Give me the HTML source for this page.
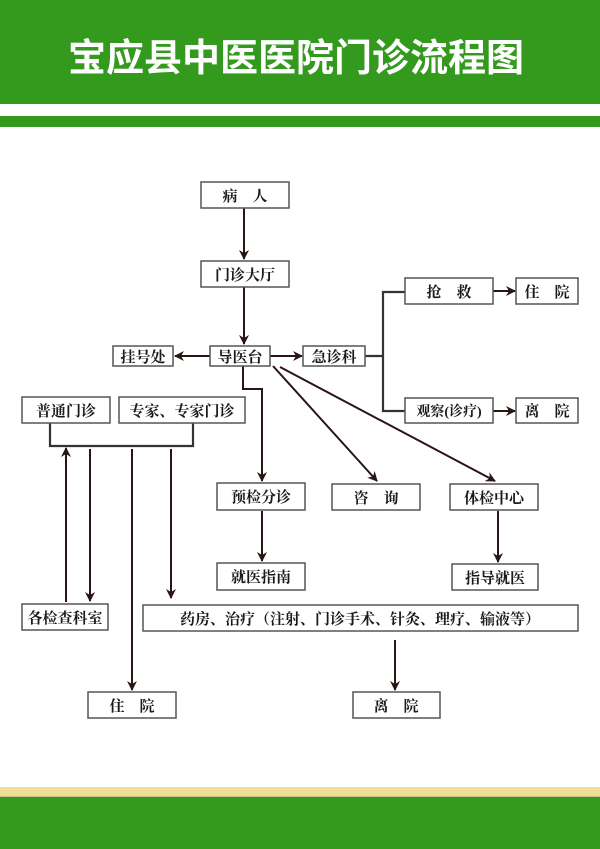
<!DOCTYPE html>
<html><head><meta charset="utf-8"><style>
html,body{margin:0;padding:0;background:#fff;}
body{width:600px;height:849px;position:relative;overflow:hidden;}
svg{position:absolute;left:0;top:0;}
</style></head><body>
<svg width="600" height="849" viewBox="0 0 600 849" xmlns="http://www.w3.org/2000/svg">
<defs>
<marker id="a" viewBox="0 0 10 10" refX="9" refY="5" markerWidth="10" markerHeight="10" orient="auto-start-reverse" markerUnits="userSpaceOnUse">
<path d="M0,0 L10,5 L0,10 L3,5 z" fill="#2a1414"/></marker>
</defs>
<rect x="0" y="0" width="600" height="104" fill="#339a1e"/>
<rect x="0" y="116" width="600" height="11" fill="#339a1e"/>
<text x="296" y="71" fill="#fff" font-family="'Noto Sans CJK SC','WenQuanYi Zen Hei',sans-serif" font-weight="bold" font-size="38" text-anchor="middle">宝应县中医医院门诊流程图</text>
<rect x="0" y="787" width="600" height="9" fill="#f0df98"/>
<rect x="0" y="796" width="600" height="1" fill="#c8c080"/>
<rect x="0" y="797" width="600" height="52" fill="#339a1e"/>

<g fill="none" stroke="#2a1414" stroke-width="2">
<line x1="244" y1="208" x2="244" y2="259" marker-end="url(#a)"/>
<line x1="244" y1="287" x2="244" y2="344" marker-end="url(#a)"/>
<line x1="210" y1="356" x2="175" y2="356" marker-end="url(#a)"/>
<line x1="270" y1="356" x2="302" y2="356" marker-end="url(#a)"/>
<polyline points="243,365 243,389 262,389 262,481" marker-end="url(#a)"/>
<line x1="262" y1="511" x2="262" y2="561" marker-end="url(#a)"/>
<line x1="273" y1="366" x2="377" y2="481" marker-end="url(#a)"/>
<line x1="280" y1="367" x2="495" y2="481" marker-end="url(#a)"/>
<line x1="498" y1="511" x2="498" y2="562" marker-end="url(#a)"/>
<line x1="493" y1="291" x2="515" y2="291" marker-end="url(#a)"/>
<line x1="493" y1="411" x2="515" y2="411" marker-end="url(#a)"/>
<line x1="66" y1="602" x2="66" y2="448" marker-end="url(#a)"/>
<line x1="90" y1="449" x2="90" y2="601" marker-end="url(#a)"/>
<line x1="132" y1="449" x2="132" y2="690" marker-end="url(#a)"/>
<line x1="171" y1="449" x2="171" y2="598" marker-end="url(#a)"/>
<line x1="395" y1="640" x2="395" y2="690" marker-end="url(#a)"/>
</g>
<g fill="none" stroke="#333" stroke-width="2.2">
<polyline points="365,356 383,356"/>
<polyline points="405,292 383,292 383,411 405,411"/>
<polyline points="50,423 50,446 193,446 193,423"/>
</g>

<g fill="#fff" stroke="#555" stroke-width="1.5">
<rect x="201" y="182" width="88" height="26"/>
<rect x="201" y="261" width="88" height="26"/>
<rect x="210" y="346" width="60" height="20"/>
<rect x="113" y="346" width="60" height="20"/>
<rect x="303" y="346" width="62" height="20"/>
<rect x="405" y="278" width="88" height="26"/>
<rect x="516" y="278" width="62" height="26"/>
<rect x="405" y="398" width="88" height="25"/>
<rect x="516" y="398" width="62" height="25"/>
<rect x="22" y="397" width="88" height="26"/>
<rect x="119" y="397" width="126" height="26"/>
<rect x="217" y="483" width="88" height="27"/>
<rect x="332" y="484" width="88" height="26"/>
<rect x="450" y="484" width="88" height="26"/>
<rect x="217" y="563" width="88" height="27"/>
<rect x="452" y="564" width="86" height="26"/>
<rect x="22" y="604" width="86" height="26"/>
<rect x="143" y="605" width="435" height="26"/>
<rect x="88" y="692" width="88" height="26"/>
<rect x="353" y="692" width="87" height="26"/>
</g>

<g fill="#1a1a1a" font-family="'Liberation Serif','Noto Serif CJK SC',serif" font-weight="bold" font-size="15" text-anchor="middle">
<text x="245" y="201">病　人</text>
<text x="245" y="280">门诊大厅</text>
<text x="240" y="362">导医台</text>
<text x="143" y="362">挂号处</text>
<text x="334" y="362">急诊科</text>
<text x="449" y="297">抢　救</text>
<text x="547" y="297">住　院</text>
<text x="449" y="416" font-size="14">观察(诊疗)</text>
<text x="547" y="416">离　院</text>
<text x="66" y="416">普通门诊</text>
<text x="182" y="416">专家、专家门诊</text>
<text x="261" y="502">预检分诊</text>
<text x="376" y="503">咨　询</text>
<text x="494" y="503">体检中心</text>
<text x="261" y="582">就医指南</text>
<text x="495" y="583">指导就医</text>
<text x="65" y="623">各检查科室</text>
<text x="360" y="624">药房、治疗（注射、门诊手术、针灸、理疗、输液等）</text>
<text x="132" y="711">住　院</text>
<text x="396" y="711">离　院</text>
</g>
</svg>
</body></html>
